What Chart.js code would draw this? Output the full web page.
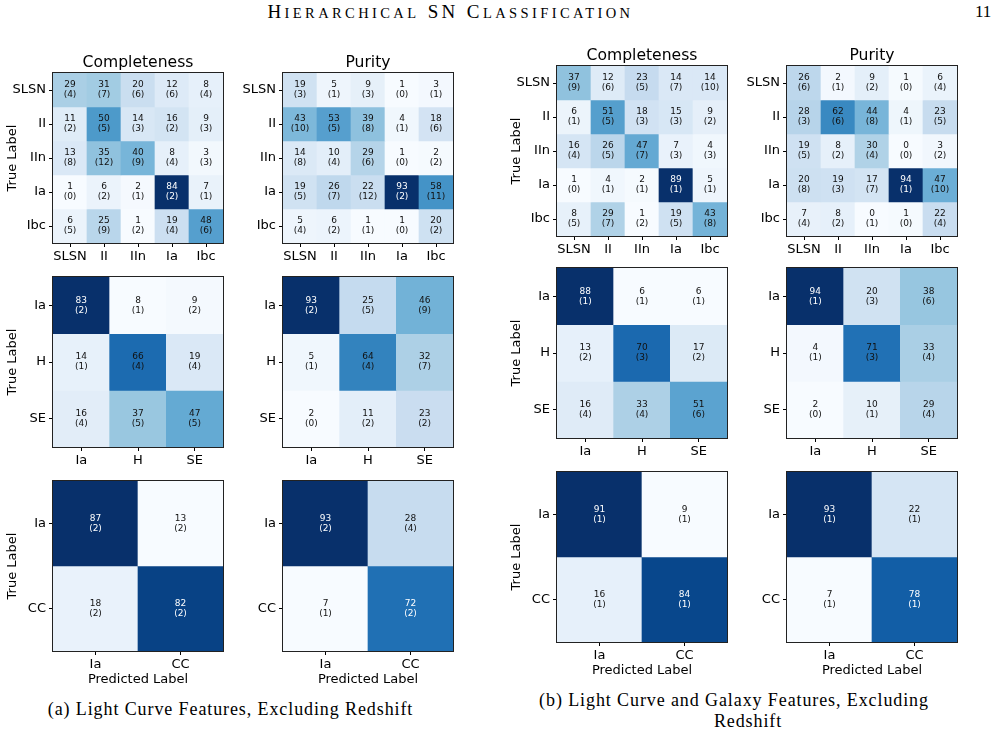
<!DOCTYPE html>
<html>
<head>
<meta charset="utf-8">
<script src="https://cdn.jsdelivr.net/npm/chart.js@4/dist/chart.umd.min.js"></script>
<style>
  body { margin: 0; background: #fff; width: 998px; height: 741px; position: relative; overflow: hidden; }
  canvas { position: absolute; }
  .tex { position: absolute; font-family: "Liberation Serif", "DejaVu Serif", serif; color: #000; white-space: nowrap; }
  .cap { font-size: 18px; letter-spacing: 0.9px; text-align: center; }
  .sc { font-size: 14.5px; }
</style>
</head>
<body>
<div class="tex" style="left:0;width:901px;top:1px;text-align:center;font-size:19px;letter-spacing:3.4px;">H<span class="sc">IERARCHICAL</span> SN C<span class="sc">LASSIFICATION</span></div>
<div class="tex" style="left:975px;top:2px;font-size:17px;">11</div>
<div class="tex cap" style="left:0;width:461px;top:699px;">(a) Light Curve Features, Excluding Redshift</div>
<div class="tex cap" style="left:484px;width:500px;top:690px;">(b) Light Curve and Galaxy Features, Excluding</div>
<div class="tex cap" style="left:648px;width:200px;top:711px;">Redshift</div>

<script>
// Confusion matrices: rows = true label, cols = predicted label, values in %
const SN5 = ['SLSN', 'II', 'IIn', 'Ia', 'Ibc'];
const SN3 = ['Ia', 'H', 'SE'];
const SN2 = ['Ia', 'CC'];

// (a) light curve features
const A5_COMP = [[29, 31, 20, 12, 8], [11, 50, 14, 16, 9], [13, 35, 40, 8, 3], [1, 6, 2, 84, 7], [6, 25, 1, 19, 48]];
const A5_COMP_ERR = [[4, 7, 6, 6, 4], [2, 5, 3, 2, 3], [8, 12, 9, 4, 3], [0, 2, 1, 2, 1], [5, 9, 2, 4, 6]];
const A5_PUR = [[19, 5, 9, 1, 3], [43, 53, 39, 4, 18], [14, 10, 29, 1, 2], [19, 26, 22, 93, 58], [5, 6, 1, 1, 20]];
const A5_PUR_ERR = [[3, 1, 3, 0, 1], [10, 5, 8, 1, 6], [8, 4, 6, 0, 2], [5, 7, 12, 2, 11], [4, 2, 1, 0, 2]];
const A3_COMP = [[83, 8, 9], [14, 66, 19], [16, 37, 47]];
const A3_COMP_ERR = [[2, 1, 2], [1, 4, 4], [4, 5, 5]];
const A3_PUR = [[93, 25, 46], [5, 64, 32], [2, 11, 23]];
const A3_PUR_ERR = [[2, 5, 9], [1, 4, 7], [0, 2, 2]];
const A2_COMP = [[87, 13], [18, 82]];
const A2_COMP_ERR = [[2, 2], [2, 2]];
const A2_PUR = [[93, 28], [7, 72]];
const A2_PUR_ERR = [[2, 4], [1, 2]];

// (b) light curve + galaxy features
const B5_COMP = [[37, 12, 23, 14, 14], [6, 51, 18, 15, 9], [16, 26, 47, 7, 4], [1, 4, 2, 89, 5], [8, 29, 1, 19, 43]];
const B5_COMP_ERR = [[9, 6, 5, 7, 10], [1, 5, 3, 3, 2], [4, 5, 7, 3, 3], [0, 1, 1, 1, 1], [5, 7, 2, 5, 8]];
const B5_PUR = [[26, 2, 9, 1, 6], [28, 62, 44, 4, 23], [19, 8, 30, 0, 3], [20, 19, 17, 94, 47], [7, 8, 0, 1, 22]];
const B5_PUR_ERR = [[6, 1, 2, 0, 4], [3, 6, 8, 1, 5], [5, 2, 4, 0, 2], [8, 3, 7, 1, 10], [4, 2, 1, 0, 4]];
const B3_COMP = [[88, 6, 6], [13, 70, 17], [16, 33, 51]];
const B3_COMP_ERR = [[1, 1, 1], [2, 3, 2], [4, 4, 6]];
const B3_PUR = [[94, 20, 38], [4, 71, 33], [2, 10, 29]];
const B3_PUR_ERR = [[1, 3, 6], [1, 3, 4], [0, 1, 4]];
const B2_COMP = [[91, 9], [16, 84]];
const B2_COMP_ERR = [[1, 1], [1, 1]];
const B2_PUR = [[93, 22], [7, 78]];
const B2_PUR_ERR = [[1, 1], [1, 1]];

// matplotlib "Blues" stops
const BLUES = ['#f7fbff', '#deebf7', '#c6dbef', '#9ecae1', '#6baed6', '#4292c6', '#2171b5', '#08519c', '#08306b'];
const FONT = '"DejaVu Sans", sans-serif';
const SIZE = 170;    // plot area side
const Y_W = 53;      // forced y axis width
const X_H = 36;      // forced x axis height
const TOP_OFF = 28;  // space above plot for title

const PANELS = [
  { left: 53, top: 73, labels: SN5, vals: A5_COMP, errs: A5_COMP_ERR, title: 'Completeness', yTitle: true },
  { left: 283, top: 73, labels: SN5, vals: A5_PUR, errs: A5_PUR_ERR, title: 'Purity' },
  { left: 53, top: 277, labels: SN3, vals: A3_COMP, errs: A3_COMP_ERR, yTitle: true },
  { left: 283, top: 277, labels: SN3, vals: A3_PUR, errs: A3_PUR_ERR },
  { left: 53, top: 481, labels: SN2, vals: A2_COMP, errs: A2_COMP_ERR, yTitle: true, xTitle: true },
  { left: 283, top: 481, labels: SN2, vals: A2_PUR, errs: A2_PUR_ERR, xTitle: true },
  { left: 557, top: 66, labels: SN5, vals: B5_COMP, errs: B5_COMP_ERR, title: 'Completeness', yTitle: true },
  { left: 787, top: 66, labels: SN5, vals: B5_PUR, errs: B5_PUR_ERR, title: 'Purity' },
  { left: 557, top: 268, labels: SN3, vals: B3_COMP, errs: B3_COMP_ERR, yTitle: true },
  { left: 787, top: 268, labels: SN3, vals: B3_PUR, errs: B3_PUR_ERR },
  { left: 557, top: 472, labels: SN2, vals: B2_COMP, errs: B2_COMP_ERR, yTitle: true, xTitle: true },
  { left: 787, top: 472, labels: SN2, vals: B2_PUR, errs: B2_PUR_ERR, xTitle: true }
];

function hex(h) {
  return [1, 3, 5].map(i => parseInt(h.slice(i, i + 2), 16));
}

function blues(t) {
  t = Math.max(0, Math.min(1, t)) * (BLUES.length - 1);
  const i = Math.min(Math.floor(t), BLUES.length - 2);
  const f = t - i;
  const a = hex(BLUES[i]), b = hex(BLUES[i + 1]);
  const c = a.map((v, k) => Math.round(v + (b[k] - v) * f));
  return `rgb(${c[0]},${c[1]},${c[2]})`;
}

function makePanel(p) {
  const cv = document.createElement('canvas');
  cv.width = Y_W + SIZE + 8;
  cv.height = TOP_OFF + SIZE + X_H + 4;
  cv.style.left = (p.left - Y_W) + 'px';
  cv.style.top = (p.top - TOP_OFF) + 'px';
  document.body.appendChild(cv);

  const n = p.labels.length;
  const flat = p.vals.flat();
  const lo = Math.min(...flat), hi = Math.max(...flat);

  // one floating-bar dataset per true-label row
  const datasets = p.vals.map((row, r) => ({
    data: row.map(() => [r, r + 1]),
    backgroundColor: row.map(v => blues((v - lo) / (hi - lo))),
    borderWidth: 0,
    grouped: false,
    barPercentage: 1,
    categoryPercentage: 1
  }));

  const titleH = 15.6 * 1.2 + 6;

  const cellText = {
    id: 'cellText',
    afterDatasetsDraw(chart) {
      const ctx = chart.ctx;
      ctx.save();
      ctx.font = '9px ' + FONT;
      ctx.textAlign = 'center';
      ctx.textBaseline = 'middle';
      p.vals.forEach((row, r) => {
        const meta = chart.getDatasetMeta(r);
        row.forEach((v, c) => {
          const el = meta.data[c];
          const cy = (el.y + el.base) / 2;
          ctx.fillStyle = v >= 72 ? '#fff' : '#111';
          ctx.fillText(String(v), el.x, cy - 5);
          ctx.fillText('(' + p.errs[r][c] + ')', el.x, cy + 5);
        });
      });
      const a = chart.chartArea;
      ctx.strokeStyle = '#222';
      ctx.lineWidth = 1;
      ctx.strokeRect(Math.round(a.left) - 0.5, Math.round(a.top) - 0.5, Math.round(a.right - a.left) + 1, Math.round(a.bottom - a.top) + 1);
      ctx.restore();
    }
  };

  const gridOpts = { drawOnChartArea: false, drawTicks: true, tickLength: 4, color: '#000', lineWidth: 1 };

  new Chart(cv, {
    type: 'bar',
    data: { labels: p.labels, datasets },
    options: {
      responsive: false,
      animation: false,
      events: [],
      layout: { padding: { top: p.title ? TOP_OFF - titleH : TOP_OFF, right: 8, bottom: 4, left: 0 } },
      plugins: {
        legend: { display: false },
        tooltip: { enabled: false },
        title: {
          display: !!p.title,
          text: p.title || '',
          fullSize: false,
          color: '#000',
          font: { family: FONT, size: 15.6, weight: 'normal' },
          padding: { top: 5, bottom: 1 }
        }
      },
      scales: {
        x: {
          type: 'category',
          offset: true,
          grid: Object.assign({ offset: false }, gridOpts),
          border: { display: false },
          ticks: { color: '#000', font: { family: FONT, size: 13 }, padding: 2, maxRotation: 0, autoSkip: false },
          title: { display: !!p.xTitle, text: 'Predicted Label', color: '#000', font: { family: FONT, size: 13 }, padding: { top: 0, bottom: 0 } },
          afterFit: s => { s.height = X_H; }
        },
        y: {
          type: 'linear',
          min: 0,
          max: n,
          reverse: true,
          afterBuildTicks: s => { s.ticks = p.labels.map((_, i) => ({ value: i + 0.5 })); },
          grid: gridOpts,
          border: { display: false },
          ticks: { color: '#000', font: { family: FONT, size: 13 }, padding: 3, autoSkip: false, callback: (v, i) => p.labels[i] },
          title: { display: !!p.yTitle, text: 'True Label', color: '#000', font: { family: FONT, size: 13 }, padding: { top: 5, bottom: 0 } },
          afterFit: s => { s.width = Y_W; }
        }
      }
    },
    plugins: [cellText]
  });
}

PANELS.forEach(makePanel);
</script>
</body>
</html>
